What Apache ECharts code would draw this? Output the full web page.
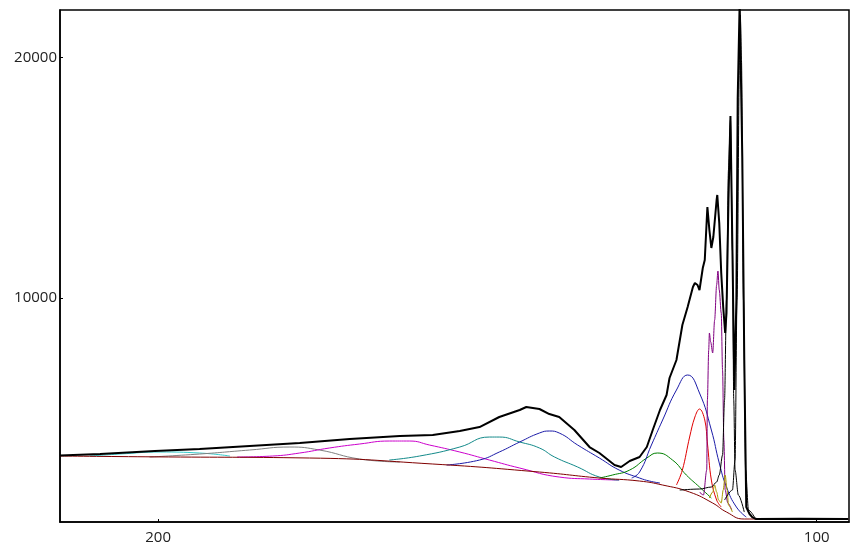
<!DOCTYPE html>
<html>
<head>
<meta charset="utf-8">
<script src="https://cdn.jsdelivr.net/npm/echarts@6/dist/echarts.min.js"></script>
<style>html,body{margin:0;padding:0;background:#fff}#c{width:859px;height:550px}</style>
</head>
<body>
<div id="c"></div>
<script>
const xTicks = [100, 200];
const yTicks = [10000, 20000];

const mainSpectrum = [
[214.9,3460],[208.8,3518],[200.5,3643],[193.7,3726],[186.1,3851],[178.5,3975],[170.9,4141],[163.3,4266],[158.3,4308],[154.2,4474],[151.2,4640],[148.2,5056],[145.1,5346],[144.1,5471],[142.1,5388],[140.6,5180],[139.1,5056],[136.8,4515],[134.5,3809],[133.0,3560],[130.7,3061],[129.7,2978],[128.4,3227],[126.9,3393],[125.8,3809],[124.9,4515],[123.8,5346],[122.8,5970],[122.35,6676],[121.3,7424],[120.4,8878],[119.6,9626],[118.8,10457],[118.5,10623],[118.1,10540],[117.8,10332],[117.3,11247],[117.0,11579],[116.7,13241],[116.6,13781],[116.3,12825],[116.0,12078],[115.7,12535],[115.2,14072],[115.1,14280],[114.8,13116],[114.5,11039],[114.2,9626],[113.9,8546],[113.7,9377],[113.4,14072],[113.1,17562],[112.8,11994],[112.5,6177],[112.2,9917],[112.0,18270],[111.7,22300],[111.5,22300],[111.3,15817],[111.0,7424],[110.7,1316],[110.2,1025],[109.8,901],[109.2,818],[102.6,830],[95.2,818]
];
const baseline = [
[214.9,3435],[200.5,3400],[177.0,3352],[158.3,3103],[142.1,2770],[133.0,2521],[126.9,2396],[123.4,2230],[119.3,1939],[115.8,1482],[113.7,1108],[111.0,818],[95.2,818]
];
const cyanPeak = [[210.4,3435],[205.8,3518],[199.7,3601],[193.7,3560],[189.1,3435]];
const grayPeak = [[201.3,3393],[193.7,3518],[186.1,3684],[180.0,3809],[175.5,3684],[169.4,3310],[163.3,3186]];
const magentaPeak = [[188.0,3393],[182.6,3435],[178.5,3560],[174.0,3768],[169.4,3934],[164.9,4058],[161.8,4058],[158.8,3892],[154.2,3601],[149.7,3269],[145.1,2936],[139.1,2562],[134.5,2479],[130.0,2437]];
const tealPeak = [[164.9,3269],[160.3,3435],[154.2,3809],[149.7,4224],[148.2,4224],[145.1,4017],[142.1,3768],[139.8,3393],[136.3,2978],[133.0,2562],[130.0,2437]];
const bluePeak = [[156.2,3061],[151.2,3269],[148.2,3601],[145.1,4017],[142.1,4391],[140.6,4474],[139.1,4391],[136.3,3892],[133.0,3352],[130.0,2853],[126.9,2521],[125.4,2396],[123.8,2313]];
const greenPeak = [[133.0,2521],[131.0,2646],[128.4,2853],[125.8,3352],[124.2,3560],[121.9,3269],[119.8,2646],[117.8,2147],[116.0,1690]];
const navyPeak = [[128.1,2521],[126.9,2770],[125.1,3892],[123.4,4931],[121.3,6177],[119.6,6801],[117.8,6053],[116.0,4515],[114.8,3144],[113.7,2147],[112.2,1316],[110.7,901]];
const redPeak = [[121.3,2230],[120.4,2853],[119.3,4224],[118.5,5056],[117.8,5388],[117.0,4931],[116.6,3975],[116.0,2437],[115.2,1607],[114.5,1316]];
const purplePeak = [[117.8,1939],[117.2,1815],[116.7,2853],[116.6,5762],[116.4,7839],[116.3,8546],[116.1,8172],[115.8,7715],[115.5,9086],[115.2,10540],[115.0,11122],[114.8,10332],[114.5,9377],[114.3,7008],[114.1,4100],[113.9,2022],[113.5,1482],[112.9,1191]];
const olivePeak = [[116.3,1690],[115.8,1939],[115.5,2230],[115.2,1939],[114.9,1607],[114.5,1482],[114.2,2022],[113.9,2646],[113.6,2022],[113.4,1399],[112.8,1108]];
const blackPeakA = [[120.8,2022],[117.8,2064],[116.0,2147],[115.2,2355],[114.8,2646],[114.3,3477],[114.0,5762],[113.7,9917],[113.4,15318],[113.1,17396],[112.8,11994],[112.6,5762],[112.4,2853],[111.9,1815],[111.0,1108]];
const blackPeakB = [[114.0,1607],[112.8,2022],[112.4,3269],[112.1,9917],[111.73,19889],[111.6,21759],[111.43,19889],[111.12,9917],[110.8,2853],[110.36,1191],[109.45,901]];

function comp(name, data, color, sm, mono) {
  const s = {
    name: name, type: 'line', data: data, showSymbol: false, symbol: 'none',
    smooth: sm, clip: true,
    lineStyle: { color: color, width: 1 }, z: 2
  };
  if (mono) s.smoothMonotone = 'x';
  return s;
}

const chart = echarts.init(document.getElementById('c'), null, { renderer: 'canvas' });
chart.setOption({
  animation: false,
  backgroundColor: '#fff',
  grid: { left: 60, right: 10, top: 10, bottom: 28, show: true, borderColor: '#000', borderWidth: 1.5 },
  xAxis: {
    type: 'value', inverse: true, min: 95.1, max: 214.9,
    splitLine: { show: false },
    axisLine: { show: true, lineStyle: { color: '#000', width: 1.5 } },
    axisTick: { show: true, inside: true, length: 3, customValues: xTicks, lineStyle: { color: '#000' } },
    axisLabel: { customValues: xTicks, color: '#222', fontSize: 15, fontFamily: 'Open Sans', margin: 8,
      formatter: function (v) { return String(v); } }
  },
  yAxis: {
    type: 'value', min: 694, max: 21965,
    splitLine: { show: false },
    axisLine: { show: true, lineStyle: { color: '#000', width: 1.5 } },
    axisTick: { show: true, inside: true, length: 3, customValues: yTicks, lineStyle: { color: '#000' } },
    axisLabel: { customValues: yTicks, color: '#222', fontSize: 15, fontFamily: 'Open Sans', margin: 3,
      formatter: function (v) { return String(v); } }
  },
  series: [
    comp('cyan', cyanPeak, '#33cccc', 0.5, false),
    comp('gray', grayPeak, '#808080', 0.5, false),
    comp('magenta', magentaPeak, '#cc00cc', 0.5, false),
    comp('teal', tealPeak, '#138a8a', 0.5, false),
    comp('blue', bluePeak, '#1c1ca8', 0.5, false),
    comp('green', greenPeak, '#008000', 0.5, false),
    comp('navy', navyPeak, '#1c1ca8', 0.5, false),
    comp('red', redPeak, '#e00000', 0.4, false),
    comp('purple', purplePeak, '#800080', 0.3, true),
    comp('olive', olivePeak, '#a89a00', 0.3, true),
    comp('baseline', baseline, '#800000', 0.5, false),
    {
      name: 'spectrum', type: 'line', data: mainSpectrum, showSymbol: false, symbol: 'none',
      smooth: false, clip: true, lineStyle: { color: '#000', width: 2 }, z: 3
    },
    comp('peakA', blackPeakA, '#000', 0.3, true),
    comp('peakB', blackPeakB, '#000', 0.3, true)
  ]
});
</script>
</body>
</html>
